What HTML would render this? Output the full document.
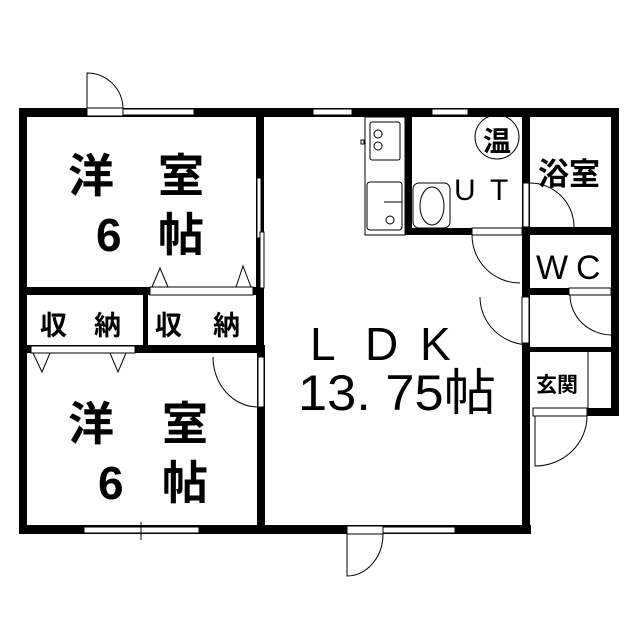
<!DOCTYPE html>
<html><head><meta charset="utf-8"><style>
html,body{margin:0;padding:0;background:#fff}
svg{display:block}
text{font-family:"Liberation Sans","Noto Sans CJK JP",sans-serif;fill:#000}
.b{font-weight:bold}
</style></head><body>
<svg width="639" height="640" viewBox="0 0 639 640" xmlns="http://www.w3.org/2000/svg">
<g fill="#000">
<rect x="19" y="108" width="600" height="9"/>
<rect x="19" y="108" width="8" height="426"/>
<rect x="19" y="525" width="512" height="9"/>
<rect x="256" y="108" width="8" height="245"/>
<rect x="257" y="345" width="8" height="188"/>
<rect x="19" y="287" width="245" height="8"/>
<rect x="143" y="287" width="5" height="66"/>
<rect x="19" y="345" width="246" height="8"/>
<rect x="405" y="108" width="7" height="127"/>
<rect x="405" y="228" width="68" height="7"/>
<rect x="522" y="108" width="8" height="426"/>
<rect x="611" y="108" width="8" height="308"/>
<rect x="522" y="227" width="97" height="8"/>
<rect x="522" y="288" width="48" height="7"/>
<rect x="522" y="347" width="97" height="5"/>
<rect x="587" y="408" width="32" height="8"/>
</g>
<g fill="#fff" stroke="#000" stroke-width="1">
<rect x="87" y="108" width="36" height="8"/>
<rect x="123" y="109" width="71" height="6"/>
<rect x="313" y="109" width="39" height="6"/>
<rect x="432" y="109" width="36" height="6"/>
<rect x="84" y="527" width="115" height="6"/>
<rect x="347" y="526" width="36" height="8"/>
<rect x="383" y="527" width="72" height="6"/>
<rect x="257" y="178" width="4" height="60"/>
<rect x="260" y="232" width="4" height="56"/>
<rect x="150" y="287" width="103" height="8"/>
<rect x="31" y="346" width="104" height="7"/>
<rect x="258" y="357" width="6" height="50"/>
<rect x="472" y="228" width="50" height="7"/>
<rect x="523" y="183" width="6" height="44"/>
<rect x="522" y="297" width="7" height="46"/>
<rect x="569" y="288" width="42" height="7"/>
<rect x="533" y="408" width="54" height="8"/>
<rect x="365" y="117" width="40" height="118"/>
<rect x="370" y="122" width="30" height="38" rx="2"/>
<rect x="367" y="182" width="35" height="48" rx="3"/>
<rect x="413" y="183" width="37" height="45" rx="6"/>
</g>
<g fill="none" stroke="#000" stroke-width="1">
<path d="M87 108 V73 A36 36 0 0 1 123 108"/>
<path d="M213 357 A45 50 0 0 0 258 407"/>
<path d="M472 235 A48 48 0 0 0 520 283"/>
<path d="M530 183 A44 44 0 0 1 574 227"/>
<path d="M480 297 A50 48 0 0 0 530 345"/>
<path d="M570 295 A42 40 0 0 0 612 335"/>
<path d="M535 416 V466 A52 50 0 0 0 587 416"/>
<path d="M347 534 V576 A36 42 0 0 0 383 534"/>
<line x1="588" y1="352" x2="588" y2="408"/>
<line x1="141" y1="522" x2="141" y2="540"/>
<path d="M152 287 L160 268 L168 287 M236 287 L243 266 L251 287"/>
<path d="M33 353 L42 372 L50 353 M110 353 L118 372 L126 353"/>
<circle cx="378" cy="134" r="4"/><circle cx="378" cy="146" r="4"/>
<circle cx="390" cy="220" r="4"/>
<ellipse cx="432" cy="206" rx="12" ry="19"/>
<line x1="384" y1="202" x2="402" y2="202"/>
<rect x="361" y="140" width="3" height="4"/>
<circle cx="497" cy="137" r="22"/>
</g>
<g font-size="46" class="b">
<text x="68" y="192">洋</text><text x="158" y="192">室</text>
<text x="96" y="251">6</text><text x="158" y="251">帖</text>
<text x="68" y="440">洋</text><text x="162" y="440">室</text>
<text x="98" y="499">6</text><text x="162" y="499">帖</text>
</g>
<g font-size="27" class="b">
<text x="40" y="335">収</text><text x="94" y="335">納</text>
<text x="155" y="335">収</text><text x="213" y="335">納</text>
</g>
<text x="310" y="360" font-size="46">L</text>
<text x="365" y="360" font-size="46">D</text>
<text x="420" y="360" font-size="46">K</text>
<text x="298" y="410" font-size="50" textLength="198" lengthAdjust="spacingAndGlyphs">13. 75帖</text>
<text x="483" y="151" font-size="28" class="b">温</text>
<text x="454" y="200" font-size="30">U</text><text x="490" y="200" font-size="30">T</text>
<text x="538" y="185" font-size="31" class="b">浴室</text>
<text x="536" y="279" font-size="34">W</text><text x="576" y="279" font-size="34">C</text>
<text x="536" y="392" font-size="21" class="b">玄関</text>
</svg>
</body></html>
